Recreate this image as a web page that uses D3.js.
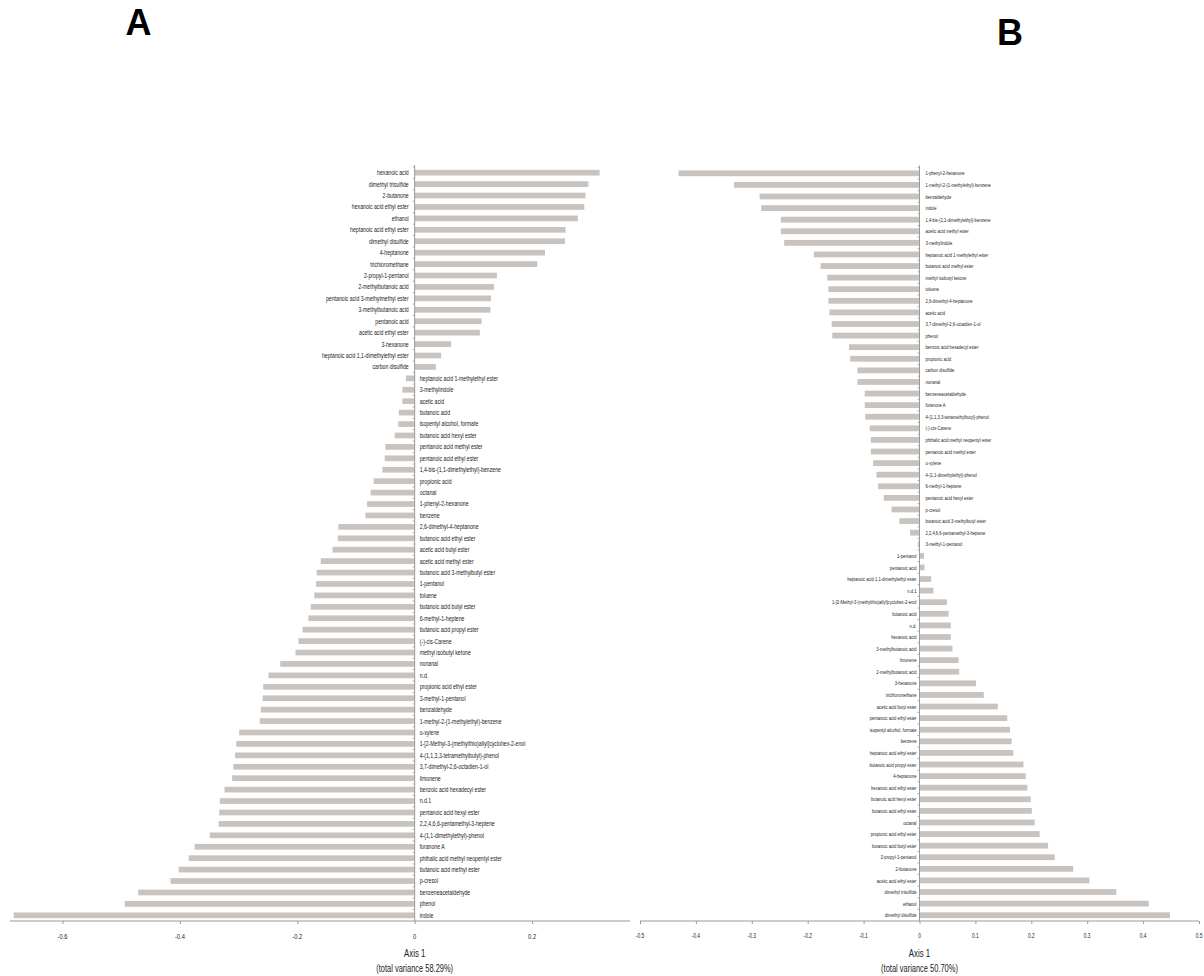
<!DOCTYPE html>
<html>
<head>
    <title>Axis 1 loadings</title>
    <script src="https://d3js.org/d3.v7.min.js"></script>
    <style>
        html, body {
            margin: 0;
            background: #fff;
            overflow: hidden;
        }
        text {
            font-family: "Liberation Sans", Arial, sans-serif;
            fill: #1a1a1a;
        }
    </style>
</head>
<body>
    <svg id="chart" width="1204" height="976"></svg>

    <script>
        // Panel A: compounds and their axis 1 loadings (top to bottom)
        const namesA = [
            "hexanoic acid", "dimethyl trisulfide", "2-butanone", "hexanoic acid ethyl ester",
            "ethanol", "heptanoic acid ethyl ester", "dimethyl disulfide", "4-heptanone",
            "trichloromethane", "2-propyl-1-pentanol", "2-methylbutanoic acid",
            "pentanoic acid 3-methylmethyl ester", "3-methylbutanoic acid", "pentanoic acid",
            "acetic acid ethyl ester", "3-hexanone", "heptanoic acid 1,1-dimethylethyl ester",
            "carbon disulfide", "heptanoic acid 1-methylethyl ester", "3-methylindole",
            "acetic acid", "butanoic acid", "isopentyl alcohol, formate", "butanoic acid hexyl ester",
            "pentanoic acid methyl ester", "pentanoic acid ethyl ester",
            "1,4-bis-(1,1-dimethylethyl)-benzene", "propionic acid", "octanal",
            "1-phenyl-2-hexanone", "benzene", "2,6-dimethyl-4-heptanone", "butanoic acid ethyl ester",
            "acetic acid butyl ester", "acetic acid methyl ester", "butanoic acid 3-methylbutyl ester",
            "1-pentanol", "toluene", "butanoic acid butyl ester", "6-methyl-1-heptene",
            "butanoic acid propyl ester", "(-)-cis-Carene", "methyl isobutyl ketone", "nonanal",
            "n.d.", "propionic acid ethyl ester", "3-methyl-1-pentanol", "benzaldehyde",
            "1-methyl-2-(1-methylethyl)-benzene", "o-xylene",
            "1-[2-Methyl-3-(methylthio)allyl]cyclohex-2-enol", "4-(1,1,3,3-tetramethylbutyl)-phenol",
            "3,7-dimethyl-2,6-octadien-1-ol", "limonene", "benzoic acid hexadecyl ester", "n.d.1",
            "pentanoic acid hexyl ester", "2,2,4,6,6-pentamethyl-3-heptene",
            "4-(1,1-dimethylethyl)-phenol", "furanone A", "phthalic acid methyl neopentyl ester",
            "butanoic acid methyl ester", "p-cresol", "benzeneacetaldehyde", "phenol", "indole"
        ];
        const valuesA = [
            0.315, 0.296, 0.291, 0.289, 0.278, 0.257, 0.256, 0.222, 0.209, 0.140, 0.135,
            0.130, 0.129, 0.114, 0.111, 0.062, 0.045, 0.036, -0.015, -0.021, -0.021, -0.027,
            -0.028, -0.034, -0.050, -0.051, -0.055, -0.070, -0.075, -0.081, -0.084, -0.130,
            -0.131, -0.140, -0.160, -0.167, -0.168, -0.171, -0.177, -0.181, -0.191, -0.198,
            -0.203, -0.229, -0.249, -0.258, -0.259, -0.262, -0.264, -0.299, -0.304, -0.306,
            -0.309, -0.311, -0.324, -0.332, -0.333, -0.334, -0.349, -0.375, -0.385, -0.402,
            -0.416, -0.471, -0.494, -0.683
        ];

        // Panel B: compounds and their axis 1 loadings (top to bottom)
        const namesB = [
            "1-phenyl-2-hexanone", "1-methyl-2-(1-methylethyl)-benzene", "benzaldehyde", "indole",
            "1,4-bis-(1,1-dimethylethyl)-benzene", "acetic acid methyl ester", "3-methylindole",
            "heptanoic acid 1-methylethyl ester", "butanoic acid methyl ester", "methyl isobutyl ketone",
            "toluene", "2,6-dimethyl-4-heptanone", "acetic acid", "3,7-dimethyl-2,6-octadien-1-ol",
            "phenol", "benzoic acid hexadecyl ester", "propionic acid", "carbon disulfide", "nonanal",
            "benzeneacetaldehyde", "furanone A", "4-(1,1,3,3-tetramethylbutyl)-phenol",
            "(-)-cis-Carene", "phthalic acid methyl neopentyl ester", "pentanoic acid methyl ester",
            "o-xylene", "4-(1,1-dimethylethyl)-phenol", "6-methyl-1-heptene",
            "pentanoic acid hexyl ester", "p-cresol", "butanoic acid 3-methylbutyl ester",
            "2,2,4,6,6-pentamethyl-3-heptene", "3-methyl-1-pentanol", "1-pentanol", "pentanoic acid",
            "heptanoic acid 1,1-dimethylethyl ester", "n.d.1",
            "1-[2-Methyl-3-(methylthio)allyl]cyclohex-2-enol", "butanoic acid", "n.d.",
            "hexanoic acid", "3-methylbutanoic acid", "limonene", "2-methylbutanoic acid",
            "3-hexanone", "trichloromethane", "acetic acid butyl ester", "pentanoic acid ethyl ester",
            "isopentyl alcohol, formate", "benzene", "heptanoic acid ethyl ester",
            "butanoic acid propyl ester", "4-heptanone", "hexanoic acid ethyl ester",
            "butanoic acid hexyl ester", "butanoic acid ethyl ester", "octanal",
            "propionic acid ethyl ester", "butanoic acid butyl ester", "2-propyl-1-pentanol",
            "2-butanone", "acetic acid ethyl ester", "dimethyl trisulfide", "ethanol",
            "dimethyl disulfide"
        ];
        const valuesB = [
            -0.431, -0.332, -0.286, -0.283, -0.248, -0.248, -0.242, -0.189, -0.177, -0.165,
            -0.163, -0.163, -0.161, -0.157, -0.156, -0.126, -0.124, -0.111, -0.111, -0.098,
            -0.098, -0.097, -0.089, -0.087, -0.087, -0.083, -0.077, -0.074, -0.064, -0.050,
            -0.036, -0.017, -0.003, 0.008, 0.009, 0.021, 0.025, 0.049, 0.052, 0.056, 0.056,
            0.059, 0.070, 0.071, 0.101, 0.115, 0.140, 0.157, 0.162, 0.165, 0.168, 0.186,
            0.190, 0.193, 0.199, 0.201, 0.206, 0.215, 0.230, 0.242, 0.275, 0.304, 0.352,
            0.410, 0.448
        ];

        const ticksA = [-0.6, -0.4, -0.2, 0, 0.2];
        const ticksB = [-0.5, -0.4, -0.3, -0.2, -0.1, 0, 0.1, 0.2, 0.3, 0.4, 0.5];
        const varianceA = "(total variance 58.29%)";
        const varianceB = "(total variance 50.70%)";

        const svg = d3.select("#chart");
        const barColor = "#c8c3be";
        const axisColor = "#9a9a9a";

        // narrow text helper: the original uses a condensed face
        function narrowText(g, x, y, str, size, sx, anchor) {
            return g.append("text")
                .attr("transform", `translate(${x},${y}) scale(${sx},1)`)
                .attr("text-anchor", anchor)
                .attr("dy", "0.35em")
                .style("font-size", size + "px")
                .text(str);
        }

        function drawPanel(opt) {
            const g = svg.append("g");

            const x = d3.scaleLinear().domain(opt.domain).range(opt.xRange);
            const y = d3.scaleBand()
                .domain(opt.names)
                .range([opt.yTop, opt.yBottom])
                .paddingInner(0.5)
                .paddingOuter(0.25);

            const data = opt.names.map((n, i) => ({name: n, value: opt.values[i]}));

            // bars
            g.selectAll("rect.bar")
                .data(data)
                .join("rect")
                .attr("class", "bar")
                .attr("x", d => x(Math.min(0, d.value)))
                .attr("width", d => Math.abs(x(d.value) - x(0)))
                .attr("y", d => y(d.name))
                .attr("height", y.bandwidth())
                .attr("fill", barColor);

            // vertical zero line with small category ticks
            const x0 = x(0);
            g.append("line")
                .attr("x1", x0).attr("x2", x0)
                .attr("y1", opt.yTop - 2).attr("y2", opt.yBottom)
                .attr("stroke", axisColor).attr("stroke-width", 1);
            const step = y.step();
            g.selectAll("line.ct")
                .data(data)
                .join("line")
                .attr("class", "ct")
                .attr("x1", x0 - 2).attr("x2", x0)
                .attr("y1", d => y(d.name) - step * 0.25)
                .attr("y2", d => y(d.name) - step * 0.25)
                .attr("stroke", axisColor).attr("stroke-width", 0.8);

            // category labels on the opposite side of each bar
            data.forEach(d => {
                const cy = y(d.name) + y.bandwidth() / 2;
                if (d.value >= 0) {
                    narrowText(g, x0 - opt.gapLeft, cy, d.name, opt.labelSize, opt.labelScale, "end");
                } else {
                    narrowText(g, x0 + opt.gapRight, cy, d.name, opt.labelSize, opt.labelScale, "start");
                }
            });

            // horizontal axis
            const axis = g.append("g")
                .attr("transform", `translate(0,${opt.yBottom})`)
                .call(d3.axisBottom(x).tickValues(opt.ticks).tickSize(3).tickFormat(() => ""));
            axis.select(".domain").attr("stroke", axisColor).attr("d", `M${opt.xRange[0]},0H${opt.xRange[1]}`);
            axis.selectAll(".tick line").attr("stroke", axisColor);

            opt.ticks.forEach(t => {
                const lbl = t === 0 ? "0" : t.toFixed(1);
                narrowText(g, x(t), opt.yBottom + 15, lbl, opt.tickSize, opt.tickScale, "middle");
            });

            // axis title
            narrowText(g, x0, opt.yBottom + 32, "Axis 1", 11.5, 0.68, "middle");
            narrowText(g, x0, opt.yBottom + 47, opt.variance, 11, 0.68, "middle");

            // panel letter
            g.append("text")
                .attr("x", opt.letterX).attr("y", opt.letterY)
                .attr("text-anchor", "middle")
                .style("font-size", "36px")
                .style("font-weight", "bold")
                .style("fill", "#000")
                .text(opt.letter);
        }

        drawPanel({
            names: namesA, values: valuesA, ticks: ticksA,
            domain: [-0.6894, 0.3668], xRange: [10, 630],
            yTop: 167, yBottom: 921,
            gapLeft: 6, gapRight: 5,
            labelSize: 7, labelScale: 0.74,
            tickSize: 8, tickScale: 0.72,
            variance: varianceA, letter: "A", letterX: 138.5, letterY: 35
        });

        drawPanel({
            names: namesB, values: valuesB, ticks: ticksB,
            domain: [-0.5, 0.5], xRange: [640, 1199],
            yTop: 167.5, yBottom: 921,
            gapLeft: 3, gapRight: 6,
            labelSize: 6, labelScale: 0.69,
            tickSize: 7, tickScale: 0.69,
            variance: varianceB, letter: "B", letterX: 1010, letterY: 45
        });
    </script>
</body>
</html>
